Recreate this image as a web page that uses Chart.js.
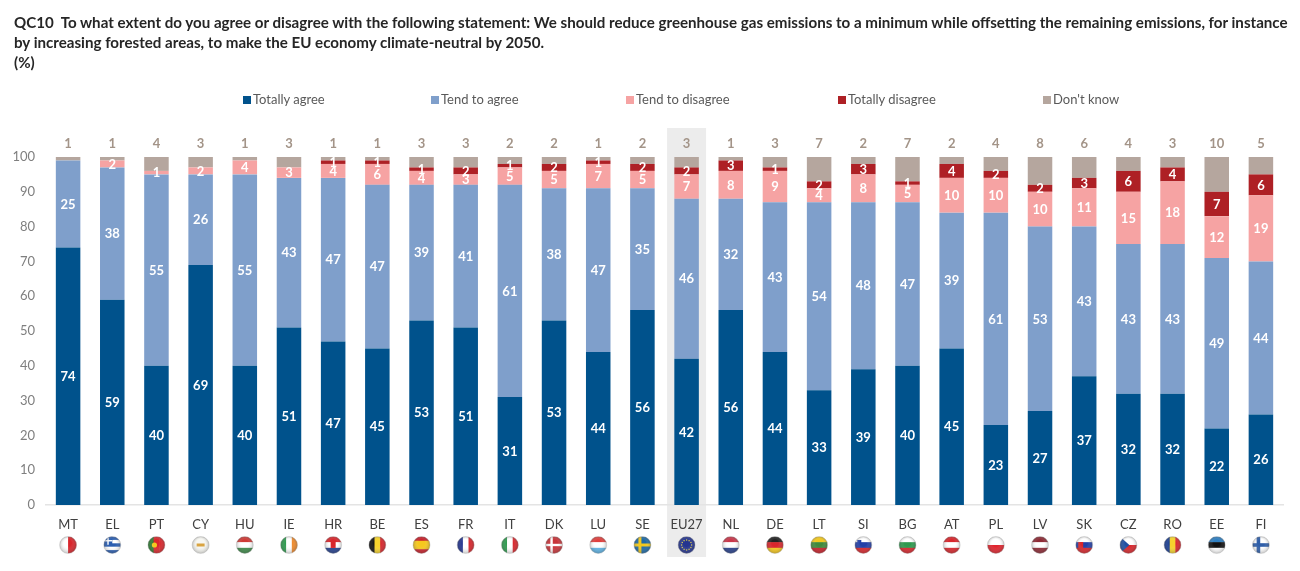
<!DOCTYPE html>
<html>
<head>
<meta charset="utf-8">
<script src="https://cdn.jsdelivr.net/npm/chart.js@4"></script>
<style>
  body { margin: 0; background: #fff; font-family: Lato, sans-serif; }
  #wrap { position: relative; width: 1300px; height: 571px; overflow: hidden; }
  #title { position: absolute; left: 14px; top: 12px; font-weight: bold; font-size: 15.14px; line-height: 20px; color: #262626; white-space: nowrap; }
  #legend span.item { position: absolute; top: 91px; font-size: 13px; line-height: 16px; color: #595959; white-space: nowrap; }
  #legend i { display: inline-block; width: 8px; height: 8px; margin-right: 2px; }
  canvas { position: absolute; left: 0; top: 0; }
</style>
</head>
<body>
<div id="wrap">
  <canvas id="chart" width="1300" height="571"></canvas>
  <div id="title">QC10&nbsp; To what extent do you agree or disagree with the following statement: We should reduce greenhouse gas emissions to a minimum while offsetting the remaining emissions, for instance<br>by increasing forested areas, to make the EU economy climate-neutral by 2050.<br>(%)</div>
  <div id="legend"></div>
</div>
<script>
const countries = ['MT','EL','PT','CY','HU','IE','HR','BE','ES','FR','IT','DK','LU','SE','EU27','NL','DE','LT','SI','BG','AT','PL','LV','SK','CZ','RO','EE','FI'];
const totallyAgree = [74,59,40,69,40,51,47,45,53,51,31,53,44,56,42,56,44,33,39,40,45,23,27,37,32,32,22,26];
const tendToAgree = [25,38,55,26,55,43,47,47,39,41,61,38,47,35,46,32,43,54,48,47,39,61,53,43,43,43,49,44];
const tendToDisagree = [0,2,1,2,4,3,4,6,4,3,5,5,7,5,7,8,9,4,8,5,10,10,10,11,15,18,12,19];
const totallyDisagree = [0,0,0,0,0,0,1,1,1,2,1,2,1,2,2,3,1,2,3,1,4,2,2,3,6,4,7,6];
const dontKnow = [1,1,4,3,1,3,1,1,3,3,2,2,1,2,3,1,3,7,2,7,2,4,8,6,4,3,10,5];
const yTicks = [0,10,20,30,40,50,60,70,80,90,100];

const seriesNames = ['Totally agree','Tend to agree','Tend to disagree','Totally disagree',"Don't know"];
const seriesColors = ['#00528c','#7f9fcb','#f6a3a3','#ae2025','#b5a69e'];
const legendLefts = [243,431,626,838,1043];

// flag stripes: h = top to bottom, v = left to right
const flags = {
  MT: ['v','#ffffff','#d8262c'], EL: ['h','#2a5db0','#ffffff','#2a5db0','#ffffff','#2a5db0'],
  PT: ['v','#2f7d32','#d8262c','#d8262c'], CY: ['h','#f7f7f2'], HU: ['h','#cf3a36','#ffffff','#3f8a4a'],
  IE: ['v','#2f9a4f','#ffffff','#ef8a2c'], HR: ['h','#d8262c','#ffffff','#24408e'], BE: ['v','#111111','#f6d32d','#d8262c'],
  ES: ['h','#c8202a','#f6c81e','#f6c81e','#c8202a'], FR: ['v','#22348f','#ffffff','#d8262c'], IT: ['v','#2f9a4f','#ffffff','#d8262c'],
  DK: ['h','#c8353a'], LU: ['h','#e0413f','#ffffff','#5fb4e6'], SE: ['h','#1f6aa5'], EU27: ['h','#25358f'],
  NL: ['h','#c9374a','#ffffff','#27408b'], DE: ['h','#222222','#d8262c','#f6c81e'], LT: ['h','#f2c81e','#3f8a3c','#c8202a'],
  SI: ['h','#ffffff','#2340a8','#d8262c'], BG: ['h','#ffffff','#2f9a4f','#d8262c'], AT: ['h','#d8262c','#ffffff','#d8262c'],
  PL: ['h','#ffffff','#e0252e'], LV: ['h','#8e2a35','#ffffff','#8e2a35'], SK: ['h','#ffffff','#2340a8','#d8262c'],
  CZ: ['h','#ffffff','#d8262c'], RO: ['v','#1b3f94','#f6d32d','#d8262c'], EE: ['h','#2f7fc1','#111111','#ffffff'], FI: ['h','#ffffff']
};

function drawFlag(ctx, code, cx, cy, r) {
  const spec = flags[code];
  ctx.save();
  ctx.beginPath();
  ctx.arc(cx, cy, r, 0, Math.PI * 2);
  ctx.clip();
  const bands = spec.slice(1);
  bands.forEach((c, i) => {
    ctx.fillStyle = c;
    if (spec[0] === 'h') ctx.fillRect(cx - r, cy - r + i * 2 * r / bands.length, 2 * r, 2 * r / bands.length + 0.5);
    else ctx.fillRect(cx - r + i * 2 * r / bands.length, cy - r, 2 * r / bands.length + 0.5, 2 * r);
  });
  const cross = (color, w, dx) => {
    ctx.fillStyle = color;
    ctx.fillRect(cx - r, cy - w / 2, 2 * r, w);
    ctx.fillRect(cx - dx - w / 2, cy - r, w, 2 * r);
  };
  if (code === 'DK') cross('#ffffff', 2.4, 2.5);
  if (code === 'SE') cross('#f2c81e', 3, 2.5);
  if (code === 'FI') cross('#2f5ea8', 3.6, 2.5);
  if (code === 'EL') { ctx.fillStyle = '#2a5db0'; ctx.fillRect(cx - r, cy - r, r, r); cross2(ctx, cx - r / 2, cy - r / 2); }
  if (code === 'CY') { ctx.fillStyle = '#d9a441'; ctx.fillRect(cx - 4, cy - 1.5, 8, 3); }
  if (code === 'PT') { ctx.fillStyle = '#f2c81e'; ctx.beginPath(); ctx.arc(cx - 2, cy, 2.6, 0, Math.PI * 2); ctx.fill(); }
  if (code === 'HR') { ctx.fillStyle = '#d8262c'; ctx.fillRect(cx - 2.5, cy - 3, 5, 6); }
  if (code === 'SK') { ctx.fillStyle = '#d8262c'; ctx.fillRect(cx - 6, cy - 3, 5, 6); }
  if (code === 'SI') { ctx.fillStyle = '#2340a8'; ctx.fillRect(cx - 6, cy - 5, 4, 4); }
  if (code === 'CZ') {
    ctx.fillStyle = '#1f4fa3';
    ctx.beginPath(); ctx.moveTo(cx - r, cy - r); ctx.lineTo(cx + 1, cy); ctx.lineTo(cx - r, cy + r); ctx.fill();
  }
  if (code === 'EU27') {
    ctx.fillStyle = '#e8d44a';
    for (let a = 0; a < 12; a++) {
      ctx.fillRect(cx + Math.cos(a * Math.PI / 6) * 5 - 0.6, cy + Math.sin(a * Math.PI / 6) * 5 - 0.6, 1.2, 1.2);
    }
  }
  // gloss
  const g = ctx.createRadialGradient(cx, cy - 2, r * 0.4, cx, cy, r);
  g.addColorStop(0, 'rgba(255,255,255,0)');
  g.addColorStop(1, 'rgba(60,60,60,0.3)');
  ctx.fillStyle = g;
  ctx.fillRect(cx - r, cy - r, 2 * r, 2 * r);
  ctx.restore();
  ctx.strokeStyle = 'rgba(170,170,170,0.6)';
  ctx.lineWidth = 0.7;
  ctx.beginPath();
  ctx.arc(cx, cy, r, 0, Math.PI * 2);
  ctx.stroke();
}

function cross2(ctx, x, y) {
  ctx.fillStyle = '#ffffff';
  ctx.fillRect(x - 4, y - 0.7, 8, 1.4);
  ctx.fillRect(x - 0.7, y - 4, 1.4, 8);
}

// grey band behind the EU27 column
const euBand = {
  id: 'euBand',
  beforeDraw(chart) {
    const { ctx, scales: { x } } = chart;
    const cx = x.getPixelForValue(countries.indexOf('EU27'));
    ctx.save();
    ctx.fillStyle = '#ececec';
    ctx.fillRect(cx - 19.5, 128, 39, 429);
    ctx.restore();
  }
};

// values in the segments, don't know above the stack, flags below the axis
const barLabels = {
  id: 'barLabels',
  afterDatasetsDraw(chart) {
    const { ctx, scales: { x } } = chart;
    ctx.save();
    ctx.textAlign = 'center';
    ctx.textBaseline = 'middle';
    ctx.font = 'bold 13px Lato';
    ctx.fillStyle = '#ffffff';
    for (let d = 0; d < 4; d++) {
      const meta = chart.getDatasetMeta(d);
      chart.data.datasets[d].data.forEach((v, i) => {
        if (!v) return;
        const bar = meta.data[i];
        ctx.fillText(v, bar.x, (bar.y + bar.base) / 2 + 0.5);
      });
    }
    ctx.fillStyle = '#a39488';
    dontKnow.forEach((v, i) => ctx.fillText(v, x.getPixelForValue(i), 144));
    ctx.restore();
    countries.forEach((c, i) => drawFlag(ctx, c, x.getPixelForValue(i), 545, 8.5));
  }
};

document.getElementById('legend').innerHTML = seriesNames.map((name, i) =>
  `<span class="item" style="left:${legendLefts[i]}px"><i style="background:${seriesColors[i]}"></i>${name}</span>`
).join('');

const allSeries = [totallyAgree, tendToAgree, tendToDisagree, totallyDisagree, dontKnow];

new Chart(document.getElementById('chart'), {
  type: 'bar',
  data: {
    labels: countries,
    datasets: seriesNames.map((name, i) => ({
      label: name,
      data: allSeries[i],
      backgroundColor: seriesColors[i],
      borderWidth: 0,
      barPercentage: 0.555,
      categoryPercentage: 1
    }))
  },
  options: {
    responsive: false,
    animation: false,
    devicePixelRatio: 1,
    layout: { padding: { top: 157, right: 17, left: 0, bottom: 0 } },
    plugins: { legend: { display: false }, tooltip: { enabled: false } },
    scales: {
      x: {
        stacked: true,
        afterFit: (s) => { s.height = 66; },
        grid: { display: false },
        border: { display: true, color: '#e4e4e4', width: 1.5 },
        ticks: { autoSkip: false, maxRotation: 0, padding: 4, color: '#404040', font: { family: 'Lato', size: 13 } }
      },
      y: {
        stacked: true,
        min: 0,
        max: 100,
        afterFit: (s) => { s.width = 46; },
        afterBuildTicks: (s) => { s.ticks = yTicks.map((v) => ({ value: v })); },
        grid: { display: false },
        border: { display: false },
        ticks: { padding: 3, color: '#7f7f7f', font: { family: 'Lato', size: 13 } }
      }
    }
  },
  plugins: [euBand, barLabels]
});
</script>
</body>
</html>
